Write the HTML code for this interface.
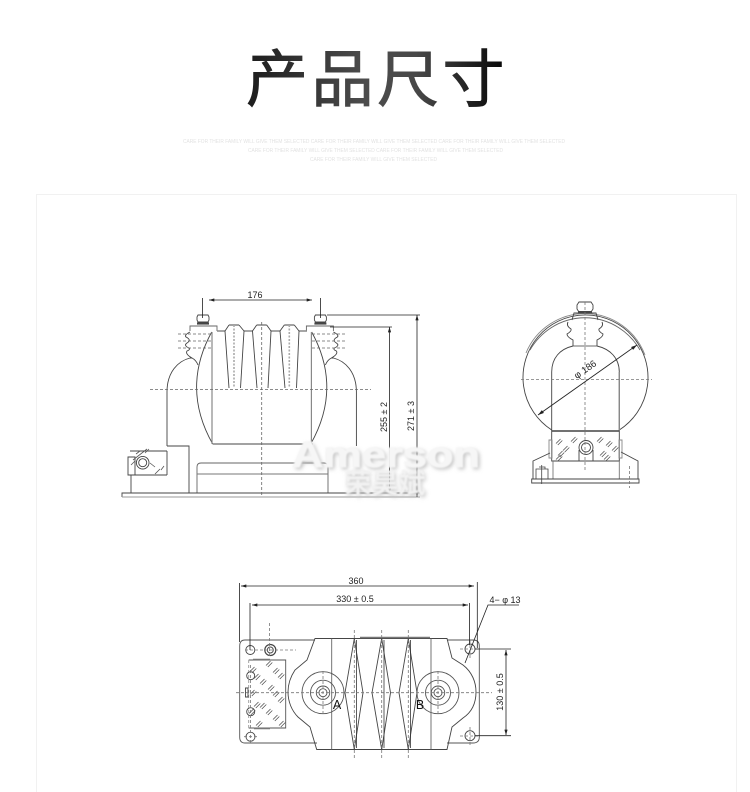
<!DOCTYPE html>
<html lang="zh"><head><meta charset="utf-8"><title>产品尺寸</title>
<style>html,body{margin:0;padding:0;background:#fff}svg{display:block}text{font-family:"Liberation Sans","Noto Sans CJK SC",sans-serif}</style></head>
<body>
<svg xmlns="http://www.w3.org/2000/svg" width="750" height="792" viewBox="0 0 750 792">
<defs>
<linearGradient id="tg" x1="0" x2="1" y1="0" y2="0"><stop offset="0" stop-color="#1c1c1c"/><stop offset=".45" stop-color="#4c4c4c"/><stop offset=".65" stop-color="#484848"/><stop offset="1" stop-color="#050505"/></linearGradient>
<filter id="b1" x="-10%" y="-30%" width="120%" height="160%"><feGaussianBlur stdDeviation="2.200"/></filter>
<filter id="b2" x="-10%" y="-30%" width="120%" height="160%"><feGaussianBlur stdDeviation=".7"/></filter>
<filter id="soft" x="-5%" y="-5%" width="110%" height="110%"><feGaussianBlur stdDeviation=".3"/></filter>
<marker id="ae" viewBox="0 0 10 6" refX="10" refY="3" markerWidth="8" markerHeight="4" orient="auto"><path d="M0,0L10,3L0,6z" fill="#222"/></marker>
<marker id="as" viewBox="0 0 10 6" refX="0" refY="3" markerWidth="8" markerHeight="4" orient="auto"><path d="M10,0L0,3L10,6z" fill="#222"/></marker>
<path id="h" d="M0,4.500L4.500,0M1.800,6L6.300,1.500" fill="none" stroke="#555" stroke-width=".8"/>
</defs>

<text x="246" y="101" font-size="62" letter-spacing="3.500" fill="url(#tg)" stroke="url(#tg)" stroke-width=".9">产品尺寸</text>
<g font-size="5" fill="#e2e2e2">
<text x="183" y="143" textLength="382" lengthAdjust="spacingAndGlyphs">CARE FOR THEIR FAMILY WILL GIVE THEM SELECTED CARE FOR THEIR FAMILY WILL GIVE THEM SELECTED CARE FOR THEIR FAMILY WILL GIVE THEM SELECTED</text>
<text x="248" y="152" textLength="255" lengthAdjust="spacingAndGlyphs">CARE FOR THEIR FAMILY WILL GIVE THEM SELECTED CARE FOR THEIR FAMILY WILL GIVE THEM SELECTED</text>
<text x="310" y="161" textLength="127" lengthAdjust="spacingAndGlyphs">CARE FOR THEIR FAMILY WILL GIVE THEM SELECTED</text>
</g>
<path d="M36.500,792V194.500H736.500V792" fill="none" stroke="#f1f1f1"/>

<g filter="url(#soft)" fill="none" stroke="#444" stroke-width=".9">
<!-- FRONT VIEW -->
<g id="half">
<path d="M167,446V392C167,372 178,361 190,358L192,358Q196,360 198,365"/>
<path d="M190,332Q184,335 186,337Q192,340 187,343Q184,345 187,347Q192,349 187,351Q185,354 192,358"/>
<path d="M190,331V326H217V331" stroke="#666"/>
<path d="M198,315H208L209,317V320L208,322H198L197,320V317Z"/><path d="M197,323.500H209" stroke-width="2.200"/>
<path d="M211.700,332Q181,388 212.700,444"/><path d="M212,332V444" stroke="#888" stroke-width="1.200"/>
</g>
<use href="#half" transform="translate(523.400,0) scale(-1,1)"/>
<path d="M212.700,444H313" stroke-width="1"/>
<path d="M217,331H225M244,331H252.500M271,331H280M299,331H307" stroke="#888" stroke-width="1.400"/>
<path d="M229,325L225,331L229,388M239,325L244,331L240.500,388M229,325H239"/>
<path d="M256.700,325L252.500,331L257,388M266.700,325L271,331L268,388M256.700,325H266.700"/>
<path d="M284.300,325L280,331L285,388M294.300,325L299,331L296.500,388M284.300,325H294.300"/>
<path d="M167,446H189V493M130,451H167M130,475H167M131,475V493M167,451V475"/>
<path d="M128,457H135V475H128Z"/><circle cx="142.700" cy="462.700" r="6.300"/><circle cx="142.700" cy="462.700" r="4"/>
<path d="M197,493V467Q197,463 201,463H324Q328,463 328,467V493" stroke="#666"/><path d="M197,474H328" stroke="#777"/>
<path d="M122,497V493H420" stroke-width=".9"/><path d="M122,497H420" stroke="#999"/>
<path d="M133,460L147,449M131,465L135,461M136,454L140,451M150,463L155,467M161,470L164,466M155,474L160,469M145,453L149,449" stroke="#555" stroke-width=".8"/>
<g stroke-dasharray="3,2" stroke="#666" stroke-width=".8">
<path d="M150,389.500H371M261.700,322V497M178,334H212M178,341H212M178,348H212M312,334H346M312,341H346M312,348H346"/>
</g>
<g stroke-dasharray="2,1.500" stroke="#aaa" stroke-width="1.600"><path d="M234,325V388M289.300,325V388"/></g>
<!-- front dims -->
<g stroke="#222" stroke-width=".8">
<path d="M202.500,298V318M320.500,298V318"/>
<path d="M209,300H312" marker-start="url(#as)" marker-end="url(#ae)"/>
<path d="M327,315H420M330,327H392"/>
<path d="M389.500,327V493" marker-start="url(#as)" marker-end="url(#ae)"/>
<path d="M417,315V497" marker-start="url(#as)" marker-end="url(#ae)"/>
</g>

<!-- SIDE VIEW -->
<path d="M551.700,430A62.500,62.500 0 1 1 619.300,430"/>
<path d="M530,350A64,66 0 0 1 640,350" stroke="#666"/>
<path d="M526,353A64,64 0 0 1 645,355" stroke="#888"/>
<path d="M551.700,431V372C551.700,358 560,349 573,346H597C610,349 619.300,358 619.300,372V431" />
<path d="M619.300,372V431" stroke="#888" stroke-width="1.400"/>
<path d="M573,346H597" stroke="#888" stroke-width="1.200"/>
<path d="M573,346V340Q567,337 567,334Q572,331 571,329Q566,326 568,322"/>
<path d="M597,346V340Q603,337 603,334Q598,331 599,329Q604,326 602,322"/>
<path d="M572,320L574,313H596L598,320"/>
<path d="M579,302H591L593,305V309L591,312H579L577,309V305Z"/><path d="M578,312H592" stroke-width="2"/>
<path d="M551.700,431H619.300" stroke-width="1.400"/><path d="M551.700,431V461H619.300V431"/>
<path d="M549,440H552V458H549ZM619,440H622V458H619Z" stroke="#888"/>
<circle cx="586" cy="447.500" r="7"/><circle cx="586" cy="447.500" r="4.500"/>
<path d="M579,450V461M593,450V461"/>
<path d="M550,453L533,461V479M621,452L638,461V479"/>
<path d="M553,461V479M619.300,461V479" stroke="#777"/>
<path d="M531.700,479H639V483H531.700Z"/>
<path d="M536,469H548V479H536ZM539,467H545V469M541.700,465V484" stroke-width=".8"/>
<use href="#h" x="556" y="439"/><use href="#h" x="563" y="446"/><use href="#h" x="558" y="451"/><use href="#h" x="571" y="437"/><use href="#h" x="597" y="437"/><use href="#h" x="606" y="441"/><use href="#h" x="600" y="451"/><use href="#h" x="612" y="446"/><use href="#h" x="556" y="455"/><use href="#h" x="604" y="455"/>
<g stroke-dasharray="3,2" stroke="#777" stroke-width=".8"><path d="M521,379.500H652M585,302V470M629.500,466V488"/></g>
<path d="M538,415L637,345" stroke="#222" stroke-width=".9" marker-start="url(#as)" marker-end="url(#ae)"/>

<!-- BOTTOM VIEW -->
<path d="M315,640H245Q239.700,640 239.700,646V737Q239.700,743 245,743H317M447,640H473Q479.300,640 479.300,646V737Q479.300,743 473,743H447" stroke="#555"/>
<path d="M315,638.500H447L452,658L463,665C472,672 476,682 476,692C476,703 472,712 463,718L452,727L447,749.500H316.700L310,727L298,717C292,711 288,702 288,692C288,683 291,676 295,670L307,660Z"/>
<path d="M331.700,638.500V749.500M431,638.500V749.500" stroke="#666"/>
<path d="M354.300,638.500L345,692.700L354.300,749.500L363,692.700Z"/><path d="M381.700,638.500L372,692.700L381.700,749.500L390.500,692.700Z"/><path d="M408.300,638.500L399,692.700L408.300,749.500L417,692.700Z"/>
<path d="M356.500,640V748M384,640V748M410.500,640V748" stroke="#333" stroke-width=".8"/>
<path d="M360,637.500H430" stroke="#777" stroke-width="1.400"/>
<circle cx="250.300" cy="650" r="4.500"/><circle cx="250.500" cy="736.700" r="4.500"/><circle cx="470" cy="649" r="5"/><circle cx="470" cy="735.700" r="5"/>
<circle cx="270.300" cy="650" r="5.500" stroke-width="1.200"/><circle cx="270.300" cy="650" r="3"/>
<path d="M248.700,660H285.700V728H248.700" stroke="#555"/><path d="M248.700,660V728" stroke="#999" stroke-dasharray="3,2"/><path d="M253,659.500H270M254,728.500H270" stroke="#777" stroke-width="1.400"/>
<circle cx="250.700" cy="675.700" r="4"/><circle cx="250.700" cy="711.700" r="4"/><path d="M245.500,688H248V697H245.500Z"/>
<use href="#h" x="266" y="661"/><use href="#h" x="250" y="667"/><use href="#h" x="254" y="674"/><use href="#h" x="273" y="668"/><use href="#h" x="278" y="673"/><use href="#h" x="260" y="679"/><use href="#h" x="268" y="685"/><use href="#h" x="273" y="691"/><use href="#h" x="250" y="690"/><use href="#h" x="278" y="697"/><use href="#h" x="254" y="702"/><use href="#h" x="260" y="703"/><use href="#h" x="266" y="709"/><use href="#h" x="273" y="715"/><use href="#h" x="256" y="721"/><use href="#h" x="279" y="721"/><use href="#h" x="249" y="709"/>
<g stroke="#555"><circle cx="323" cy="692.700" r="21"/><circle cx="323" cy="692.700" r="12.500"/><circle cx="323" cy="692.700" r="6.700"/><circle cx="323" cy="692.700" r="4"/>
<circle cx="438" cy="692.700" r="21"/><circle cx="438" cy="692.700" r="12.500"/><circle cx="438" cy="692.700" r="6.700"/><circle cx="438" cy="692.700" r="4"/></g>
<g stroke-dasharray="3,2" stroke="#777" stroke-width=".8">
<path d="M236,692.700H492M354.300,630V759M381.700,630V759M408.300,630V759M269.500,623V658M245,650H296M250.500,665V745M244,736.700H257M460,649H478M460,736H478M470,640V658M470,727V745M323,671V714M438,671V714"/>
</g>
<g stroke="#222" stroke-width=".8">
<path d="M239.500,583V642M477.300,582V648M250,603V650M469.500,603V645"/>
<path d="M241,586H474" marker-start="url(#as)" marker-end="url(#ae)"/>
<path d="M252,605H468" marker-start="url(#as)" marker-end="url(#ae)"/>
<path d="M475,649H511M475,735.700H511"/>
<path d="M506,650V735" marker-start="url(#as)" marker-end="url(#ae)"/>
<path d="M519,605H488L465,663" />
</g>
</g>

<!-- watermark -->
<g text-anchor="middle">
<text x="388" y="469" font-size="36" font-weight="bold" textLength="188" lengthAdjust="spacingAndGlyphs" fill="#bbb" filter="url(#b1)">Amerson</text>
<text x="386" y="467" font-size="36" font-weight="bold" textLength="188" lengthAdjust="spacingAndGlyphs" fill="#f6f6f6" stroke="#f6f6f6" filter="url(#b2)">Amerson</text>
<text x="386" y="495" font-size="27" font-weight="bold" fill="#c4c4c4" filter="url(#b1)">荣昊斌</text>
<text x="385" y="493" font-size="27" font-weight="bold" fill="#f2f2f2" filter="url(#b2)">荣昊斌</text>
</g>

<!-- labels -->
<g fill="#222" font-size="9">
<text x="255" y="298" text-anchor="middle">176</text>
<text transform="translate(387,417) rotate(-90)" text-anchor="middle">255 ± 2</text>
<text transform="translate(414,416) rotate(-90)" text-anchor="middle">271 ± 3</text>
<text transform="translate(587,372) rotate(-35)" text-anchor="middle" font-size="9.500">φ 186</text>
<text x="356" y="584" text-anchor="middle">360</text>
<text x="355" y="602" text-anchor="middle">330 ± 0.5</text>
<text x="505" y="603" text-anchor="middle">4− φ 13</text>
<text transform="translate(503,692) rotate(-90)" text-anchor="middle">130 ± 0.5</text>
<text x="337" y="709" text-anchor="middle" font-size="12.500" fill="#111">A</text>
<text x="420" y="709" text-anchor="middle" font-size="12.500" fill="#111">B</text>
</g>
</svg>
</body></html>
